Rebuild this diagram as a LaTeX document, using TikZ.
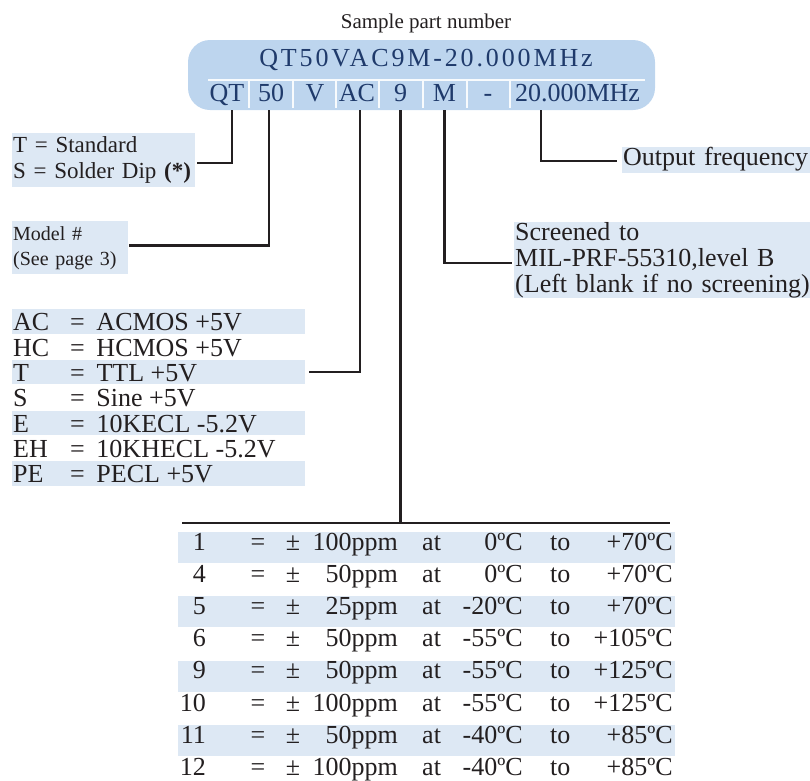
\documentclass[tikz,border=0pt]{standalone}
\usepackage{fontspec}
\setmainfont{Liberation Serif}
\usetikzlibrary{positioning}

\definecolor{pillblue}{HTML}{BDD5EE}
\definecolor{rowblue}{HTML}{DDE8F4}
\definecolor{navy}{HTML}{1F3A6B}
\definecolor{ink}{HTML}{231F20}

\tikzset{
  lead/.style={draw=ink, line width=2.6pt},
  sepline/.style={draw=white!90!pillblue, line width=1.8pt},
  seg/.style={text=navy, font=\fontsize{26}{26}\selectfont, anchor=base,
    inner sep=0pt, text height=17pt, text depth=8.3pt},
  descbox/.style={fill=rowblue, text=ink, inner xsep=1pt, inner ysep=0pt, align=left},
  cell/.style={text=ink, font=\fontsize{26}{26}\selectfont, inner sep=0pt},
  lvlrow/.style={text=ink, font=\fontsize{26}{26}\selectfont, inner xsep=1pt,
    inner ysep=0pt, text height=21.5pt, text depth=3pt, anchor=base west}
}

\begin{document}
\begin{tikzpicture}[x=1pt, y=-1pt]
  \useasboundingbox (0,0) rectangle (810,780);

  % sample part number
  \node[cell, font=\fontsize{21}{21}\selectfont, anchor=base] (title) at (426,28.3) {Sample part number};
  \node[fill=pillblue, rounded corners=22pt, minimum width=467pt, minimum height=70pt, inner sep=0pt] (pill) at (421.5,75) {};
  \node[text=navy, font=\fontsize{26}{26}\selectfont\addfontfeature{LetterSpace=11}, anchor=base, inner sep=0pt] (partno) at (426,66.7) {QT50VAC9M-20.000MHz};
  \draw[sepline] (208,80) -- (645,80);
  \foreach \x in {249,293,336,379,423,467,510}
    \draw[sepline] (\x,80) -- (\x,108);

  \begin{scope}[every node/.style={seg}]
    \node (qt) at (227,101.7) {QT};
    \node (fifty) at (271,101.7) {50};
    \node (v) at (315,101.7) {V};
    \node (ac) at (357,101.7) {AC};
    \node (nine) at (400.5,101.7) {9};
    \node (m) at (444.5,101.7) {M};
    \node (dash) at (488,101.7) {-};
    \node (mhz) at (577.5,101.7) {20.000MHz};
  \end{scope}

  % descriptions
  \node[descbox, anchor=north west, inner ysep=3pt, text width=181pt,
    font=\fontsize{23}{26.7}\selectfont] (std) at (12,133)
    {T = Standard\\\mbox{S = Solder Dip \textbf{(*)}}};
  \node[descbox, anchor=north west, inner ysep=5pt, text width=114pt,
    font=\fontsize{20}{25}\selectfont] (model) at (12,221)
    {Model \#\\(See page 3)};
  \node[descbox, anchor=north west, inner xsep=1pt, text width=294pt,
    font=\fontsize{26}{26}\selectfont] (scr) at (514,222)
    {Screened to\\\mbox{MIL-PRF-55310,level B}\\\mbox{(Left blank if no screening)}};
  \node[descbox, anchor=west, text width=186pt, text height=18.7pt, text depth=7.3pt,
    font=\fontsize{26}{26}\selectfont] (freq) at (622,160) {Output frequency};

  % logic levels
  \foreach \c/\d [count=\i] in {AC/ACMOS +5V, HC/HCMOS +5V, T/TTL +5V, S/Sine +5V,
      E/10KECL -5.2V, EH/10KHECL -5.2V, PE/PECL +5V} {
    \pgfmathsetmacro\yb{330.7+25.33*(\i-1)}
    \ifodd\i \def\rowfill{rowblue}\else \def\rowfill{white}\fi
    \node[lvlrow, fill=\rowfill] (lvl\i) at (12,\yb)
      {\makebox[291pt][l]{\makebox[57pt][l]{\c}\makebox[14.6pt]{=}\hspace{11.7pt}\d}};
  }

  % stability table
  \coordinate (tabl) at (182,523);
  \coordinate (tabr) at (670,523);
  \foreach \n/\p/\lo/\hi [count=\i] in {1/100/0/+70, 4/50/0/+70, 5/25/-20/+70,
      6/50/-55/+105, 9/50/-55/+125, 10/100/-55/+125, 11/50/-40/+85, 12/100/-40/+85} {
    \pgfmathsetmacro\yb{550+32.2*(\i-1)}
    \ifodd\i \fill[rowblue] (178,\yb-18) rectangle (675,\yb+13); \fi
    \node[cell, anchor=base east] (num\i) at (206,\yb) {\n};
    \node[cell, anchor=base] (eq\i) at (258,\yb) {=};
    \node[cell, anchor=base] (pm\i) at (293,\yb) {±};
    \node[cell, anchor=base east] (ppm\i) at (398,\yb) {\p ppm};
    \node[cell, anchor=base west] (at\i) at (422,\yb) {at};
    \node[cell, anchor=base east] (lo\i) at (523,\yb) {\lo ºC};
    \node[cell, anchor=base west] (to\i) at (550,\yb) {to};
    \node[cell, anchor=base east] (hi\i) at (673,\yb) {\hi ºC};
  }

  % connectors
  \draw[lead] ([xshift=5pt]qt.south) |- ([xshift=2pt, yshift=-3pt]std.east);
  \draw[lead] ([xshift=-2pt]fifty.south) |- ([xshift=1pt, yshift=2.5pt]model.east);
  \draw[lead] ([xshift=3pt]ac.south) |- ([xshift=4pt]lvl3.east);
  \draw[lead] (nine.south) -- (nine.south |- tabl);
  \draw[lead] (tabl) -- (tabr);
  \draw[lead] (m.south) |- ([xshift=-2pt, yshift=-3pt]scr.west);
  \draw[lead] ([xshift=-36.5pt]mhz.south) |- ([xshift=-5pt, yshift=-1pt]freq.west);
\end{tikzpicture}
\end{document}
